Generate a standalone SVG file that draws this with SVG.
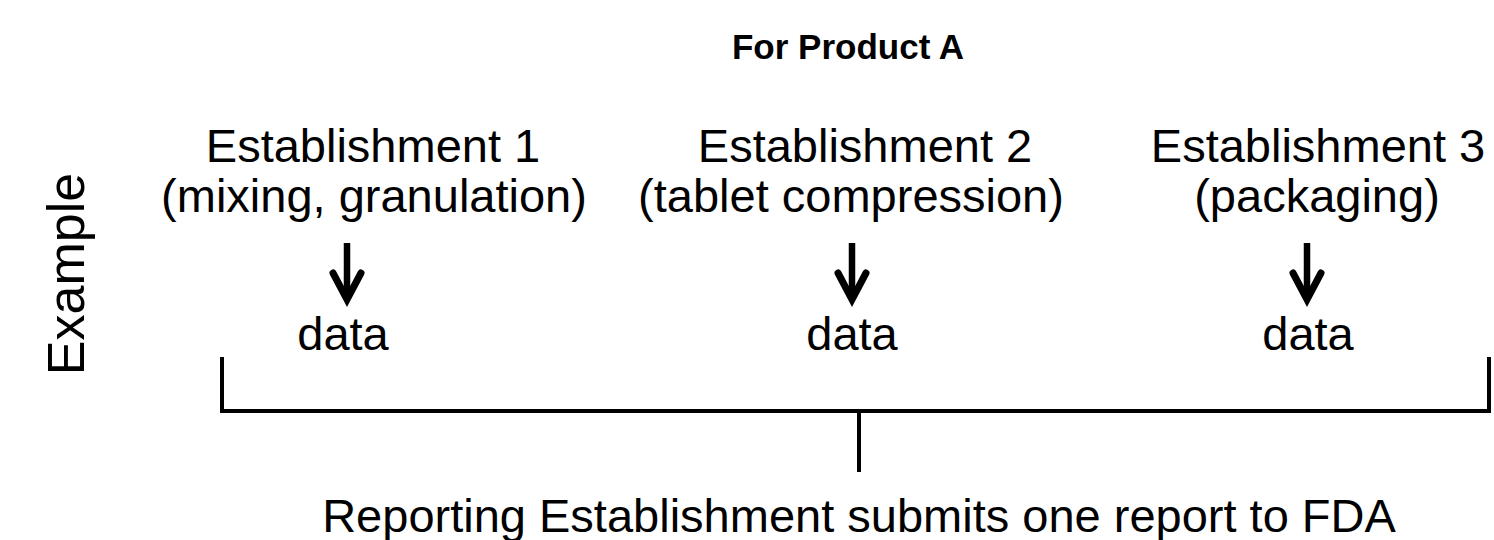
<svg xmlns="http://www.w3.org/2000/svg" width="1494" height="540" viewBox="0 0 1494 540">
  <style>
    text { font-family: "Liberation Sans", Arial, sans-serif; fill: #000; }
    .lbl { font-size: 47px; text-anchor: middle; }
    .side { font-size: 52px; text-anchor: middle; }
    .title { font-size: 35px; font-weight: bold; text-anchor: middle; }
    .line { stroke: #000; stroke-width: 4; fill: none; }
    .shaft { stroke: #000; stroke-width: 6.5; fill: none; }
    .head { stroke: #000; stroke-width: 7; fill: none; stroke-linejoin: miter; stroke-miterlimit: 6; stroke-linecap: round; }
  </style>
  <defs>
    <!-- downward arrow: thick shaft plus open chevron head -->
    <g id="down-arrow">
      <line class="shaft" x1="0" y1="243" x2="0" y2="298"/>
      <polyline class="head" points="-14,273 0,299.5 14,273"/>
    </g>
  </defs>

  <g id="title">
    <text class="title" x="848" y="59">For Product A</text>
  </g>

  <g id="side-label">
    <text class="side" transform="translate(84,274) rotate(-90)">Example</text>
  </g>

  <g id="establishment-1">
    <text class="lbl" x="373" y="162">Establishment 1</text>
    <text class="lbl" x="374" y="212">(mixing, granulation)</text>
  </g>
  <g id="establishment-2">
    <text class="lbl" x="865" y="162">Establishment 2</text>
    <text class="lbl" x="851" y="212">(tablet compression)</text>
  </g>
  <g id="establishment-3">
    <text class="lbl" x="1318" y="162">Establishment 3</text>
    <text class="lbl" x="1317" y="212">(packaging)</text>
  </g>

  <g id="data-1"><text class="lbl" x="343" y="350">data</text></g>
  <g id="data-2"><text class="lbl" x="852" y="350">data</text></g>
  <g id="data-3"><text class="lbl" x="1308" y="350">data</text></g>

  <g id="report">
    <text class="lbl" x="859" y="532">Reporting Establishment submits one report to FDA</text>
  </g>

  <g id="connectors">
    <use href="#down-arrow" x="347"/>
    <use href="#down-arrow" x="852"/>
    <use href="#down-arrow" x="1307"/>
    <!-- bracket gathering the three data sets -->
    <polyline class="line" points="222,357 222,411 1489,411 1489,357"/>
    <line class="line" x1="859" y1="411" x2="859" y2="472"/>
  </g>
</svg>
